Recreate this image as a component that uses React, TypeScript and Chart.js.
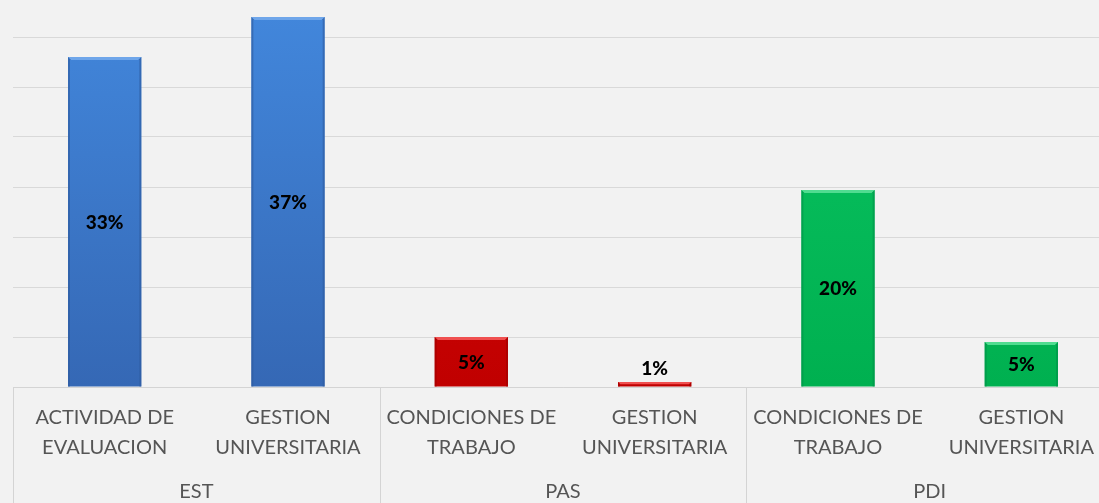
import React, { useEffect, useRef } from "react";
import { Chart, registerables } from "chart.js";

Chart.register(...registerables);

const categories: string[][] = [
  ["ACTIVIDAD DE", "EVALUACION"],
  ["GESTION", "UNIVERSITARIA"],
  ["CONDICIONES DE", "TRABAJO"],
  ["GESTION", "UNIVERSITARIA"],
  ["CONDICIONES DE", "TRABAJO"],
  ["GESTION", "UNIVERSITARIA"],
];
const groups: string[] = ["EST", "PAS", "PDI"];
const values: number[] = [33, 37, 5, 0.5, 19.7, 4.5];
const valueLabels: string[] = ["33%", "37%", "5%", "1%", "20%", "5%"];
const barTop: string[] = ["#4287DC", "#4287DC", "#DC0A0A", "#DC0A0A", "#0AC462", "#0AC462"];
const barBottom: string[] = ["#3568B5", "#3568B5", "#C00000", "#C00000", "#00B050", "#00B050"];
const barEdge: string[] = ["#2D5A9E", "#2D5A9E", "#A00000", "#A00000", "#00924A", "#00924A"];
const barHi: string[] = ["#6FA6EA", "#6FA6EA", "#F05050", "#F05050", "#50DC90", "#50DC90"];

const FONT = "Lato, 'Open Sans', sans-serif";

const bgPlugin = {
  id: "bg",
  beforeDraw(chart: any) {
    const { ctx, width, height } = chart;
    ctx.save();
    ctx.fillStyle = "#f2f2f2";
    ctx.fillRect(0, 0, width, height);
    ctx.restore();
  },
};

const decoPlugin = {
  id: "deco",
  afterDraw(chart: any) {
    const { ctx, chartArea } = chart;
    const x = chart.scales.x;
    const meta = chart.getDatasetMeta(0);
    ctx.save();
    // bevels
    meta.data.forEach((bar: any, i: number) => {
      const w = bar.width;
      const l = bar.x - w / 2;
      const r = bar.x + w / 2;
      const t = bar.y;
      const b = bar.base;
      const h = b - t;
      const bv = Math.min(3, h / 2);
      ctx.fillStyle = barHi[i];
      ctx.beginPath();
      ctx.moveTo(l, t);
      ctx.lineTo(r, t);
      ctx.lineTo(r - bv, t + bv);
      ctx.lineTo(l + bv, t + bv);
      ctx.closePath();
      ctx.fill();
      ctx.fillStyle = barEdge[i];
      ctx.globalAlpha = 0.6;
      ctx.beginPath();
      ctx.moveTo(r, t);
      ctx.lineTo(r, b);
      ctx.lineTo(r - 2, b);
      ctx.lineTo(r - 2, t + bv);
      ctx.lineTo(r - bv, t + bv);
      ctx.closePath();
      ctx.fill();
      ctx.beginPath();
      ctx.moveTo(l, t);
      ctx.lineTo(l, b);
      ctx.lineTo(l + 2, b);
      ctx.lineTo(l + 2, t + bv);
      ctx.lineTo(l + bv, t + bv);
      ctx.closePath();
      ctx.fill();
      ctx.globalAlpha = 1;
    });
    // value labels
    ctx.font = `900 19px ${FONT}`;
    ctx.fillStyle = "#000000";
    ctx.textAlign = "center";
    meta.data.forEach((bar: any, i: number) => {
      const h = bar.base - bar.y;
      if (h > 24) {
        ctx.textBaseline = "middle";
        ctx.fillText(valueLabels[i], bar.x, (bar.y + bar.base) / 2 + 1);
      } else {
        ctx.textBaseline = "bottom";
        ctx.fillText(valueLabels[i], bar.x, bar.y - 4);
      }
    });
    // category box lines
    ctx.strokeStyle = "#d4d4d4";
    ctx.lineWidth = 1;
    const bottom = chart.height;
    const n = categories.length;
    const step = (x.right - x.left) / n;
    for (let g = 0; g <= groups.length; g++) {
      const px = Math.round(x.left + g * step * 2) + 0.5;
      ctx.beginPath();
      ctx.moveTo(px, chartArea.bottom);
      ctx.lineTo(px, bottom);
      ctx.stroke();
    }
    ctx.restore();
  },
};

export default function App() {
  const ref = useRef<HTMLCanvasElement | null>(null);
  useEffect(() => {
    if (!ref.current) return;
    const chart = new Chart(ref.current, {
      type: "bar",
      data: {
        labels: categories as any,
        datasets: [
          {
            data: values,
            backgroundColor: (c: any) => {
              const i = c.dataIndex;
              const area = c.chart.chartArea;
              if (!area) return barBottom[i];
              const g = c.chart.ctx.createLinearGradient(0, area.top, 0, area.bottom);
              g.addColorStop(0, barTop[i]);
              g.addColorStop(1, barBottom[i]);
              return g;
            },
            borderWidth: 0,
            barPercentage: 0.4,
            categoryPercentage: 1,
          },
        ],
      },
      options: {
        animation: false,
        responsive: true,
        maintainAspectRatio: false,
        layout: { padding: { left: 13, right: 2, top: 7, bottom: 0 } },
        plugins: { legend: { display: false }, tooltip: { enabled: false } },
        scales: {
          x: {
            type: "category",
            position: "bottom",
            weight: 0,
            grid: { display: false, drawTicks: false },
            border: { display: true, color: "#d4d4d4" },
            ticks: {
              color: "#555555",
              font: { family: FONT, size: 20, lineHeight: 1.5 },
              padding: 16,
              maxRotation: 0,
              autoSkip: false,
            },
            afterFit: (s: any) => {
              s.height = 80;
            },
          },
          x2: {
            type: "category",
            labels: groups,
            position: "bottom",
            weight: 1,
            offset: true,
            grid: { display: false, drawTicks: false },
            border: { display: false },
            ticks: {
              color: "#555555",
              font: { family: FONT, size: 20, lineHeight: 1.5 },
              padding: 10,
              maxRotation: 0,
            },
            afterFit: (s: any) => {
              s.height = 36;
            },
          },
          y: {
            display: true,
            min: 0,
            max: 38,
            ticks: { display: false, stepSize: 5 },
            afterBuildTicks: (s: any) => {
              s.ticks = s.ticks.filter((t: any) => t.value % 5 === 0);
            },
            grid: { color: "#d9d9d9", lineWidth: 1, drawTicks: false },
            border: { display: false },
            afterFit: (s: any) => {
              s.width = 0;
            },
          },
        },
      } as any,
      plugins: [bgPlugin, decoPlugin],
    });
    return () => chart.destroy();
  }, []);
  return (
    <div style={{ position: "fixed", left: 0, top: 0, width: 1099, height: 503, overflow: "hidden" }}>
      <div style={{ position: "absolute", left: 0, top: 0, width: 1115, height: 503 }}>
        <canvas ref={ref} />
      </div>
    </div>
  );
}
